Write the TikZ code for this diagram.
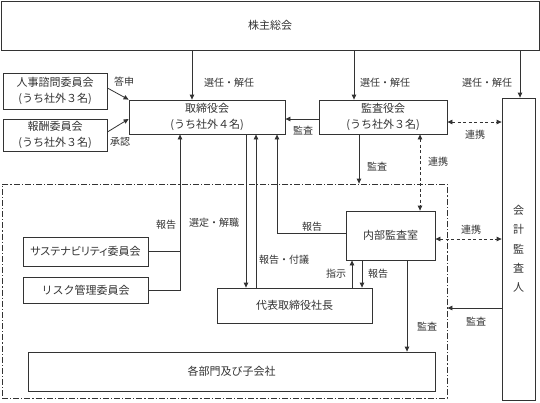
\documentclass[tikz,border=0pt]{standalone}
\usepackage{fontspec}
\setmainfont{Noto Sans CJK JP}
\usetikzlibrary{arrows.meta}
\usetikzlibrary{calc}
\tikzset{
  every picture/.style={font={\fontsize{11}{16}\selectfont}, >={Triangle[length=5pt,width=4.5pt]}}}

\begin{document}
\begin{tikzpicture}[x=1pt, y=-1pt, line width=0.8pt, black!80,
    box/.style={draw, rectangle, inner sep=0pt, align=center},
    lbl/.style={font={\fontsize{10}{12}\selectfont}, inner sep=0pt},
    link/.style={<->, dash pattern=on 3pt off 2.5pt},
    group/.style={draw, dash pattern=on 6pt off 2pt on 1.2pt off 2pt}]

    \useasboundingbox (0,0) rectangle (540,402);

    \node[group, minimum width=445pt, minimum height=214pt] (GR) at (224.5,291) {};

    \begin{scope}[every node/.append style={box}]
      \node[minimum width=538pt, minimum height=49pt] (GM) at (270,25.5) {株主総会};
      \node[minimum width=104pt, minimum height=36pt] (NC) at (55,91) {人事諮問委員会\\(うち社外３名)};
      \node[minimum width=104pt, minimum height=32pt] (RC) at (55,135) {報酬委員会\\(うち社外３名)};
      \node[minimum width=156pt, minimum height=34pt] (BD) at (207,117) {取締役会\\(うち社外４名)};
      \node[minimum width=128pt, minimum height=34pt] (AB) at (383,117) {監査役会\\(うち社外３名)};
      \node[minimum width=33pt, minimum height=302pt, font={\fontsize{11}{19.3}\selectfont}] (EA) at (518.5,249) {会\\計\\監\\査\\人};
      \node[minimum width=89pt, minimum height=49pt] (IA) at (390.5,235.5) {内部監査室};
      \node[minimum width=125pt, minimum height=29pt] (SC) at (85.5,251.5) {\addfontfeature{RawFeature=+palt}サステナビリティ委員会};
      \node[minimum width=125pt, minimum height=26pt] (RM) at (85.5,290) {リスク管理委員会};
      \node[minimum width=155pt, minimum height=35pt] (PR) at (294.5,305.5) {代表取締役社長};
      \node[minimum width=407pt, minimum height=39pt] (DS) at (231.5,371.5) {各部門及び子会社};
    \end{scope}

    \coordinate (V1) at (192,0);
    \coordinate (V2) at (354,0);
    \coordinate (V3) at (520,0);
    \coordinate (V4) at (180,0);
    \coordinate (V5) at (246,0);
    \coordinate (V6) at (256,0);
    \coordinate (V7) at (277,0);
    \coordinate (V8) at (352,0);
    \coordinate (V9) at (362,0);
    \coordinate (V10) at (407,0);
    \coordinate (V11) at (359,0);
    \coordinate (V12) at (420,0);
    \coordinate (H1) at (0,119);
    \coordinate (H2) at (0,122);
    \coordinate (H3) at (0,233);
    \coordinate (H4) at (0,239);
    \coordinate (H5) at (0,308);

    \draw[->] (GM.south -| V1) -- (BD.north -| V1);
    \draw[->] (GM.south -| V2) -- (AB.north -| V2);
    \draw[->] (GM.south -| V3) -- (EA.north -| V3);
    \draw[->] ([yshift=3pt]NC.east) -- (BD.north west);
    \draw[->] ([yshift=3pt]RC.east) -- ([yshift=-2pt]BD.west);
    \draw[->] (AB.west |- H1) -- (BD.east |- H1);
    \draw[link] (AB.east |- H2) -- (EA.west |- H2);
    \draw[->] (AB.south -| V11) -- (GR.north -| V11);
    \draw[link] (AB.south -| V12) -- (IA.north -| V12);
    \draw[link] (IA.east |- H4) -- (EA.west |- H4);
    \draw[->] (IA.west |- H3) -| (BD.south -| V7);
    \draw (SC.east) -- (SC.east -| V4);
    \draw[->] (RM.east) -| (BD.south -| V4);
    \draw[->] (BD.south -| V5) -- (PR.north -| V5);
    \draw[->] (PR.north -| V6) -- (BD.south -| V6);
    \draw[->] (PR.north -| V8) -- (IA.south -| V8);
    \draw[->] (IA.south -| V9) -- (PR.north -| V9);
    \draw[->] (IA.south -| V10) -- (DS.north -| V10);
    \draw[->] (EA.west |- H5) -- (GR.east |- H5);

    \node[lbl] (L1) at (229,83) {選任・解任};
    \node[lbl] (L2) at (385,83) {選任・解任};
    \node[lbl] (L3) at (487,83) {選任・解任};
    \node[lbl] (L4) at (124,82) {答申};
    \node[lbl] (L5) at (120,142) {承認};
    \node[lbl] (L6) at (303,131) {監査};
    \node[lbl] (L7) at (475,135) {連携};
    \node[lbl] (L8) at (377,167) {監査};
    \node[lbl] (L9) at (438,162) {連携};
    \node[lbl] (L10) at (471,230) {連携};
    \node[lbl] (L11) at (312,227) {報告};
    \node[lbl] (L12) at (166,225) {報告};
    \node[lbl] (L13) at (214,223) {選定・解職};
    \node[lbl] (L14) at (284,260) {報告・付議};
    \node[lbl] (L15) at (336,274) {指示};
    \node[lbl] (L16) at (378,274) {報告};
    \node[lbl] (L17) at (427,327) {監査};
    \node[lbl] (L18) at (476,322) {監査};
\end{tikzpicture}
\end{document}
